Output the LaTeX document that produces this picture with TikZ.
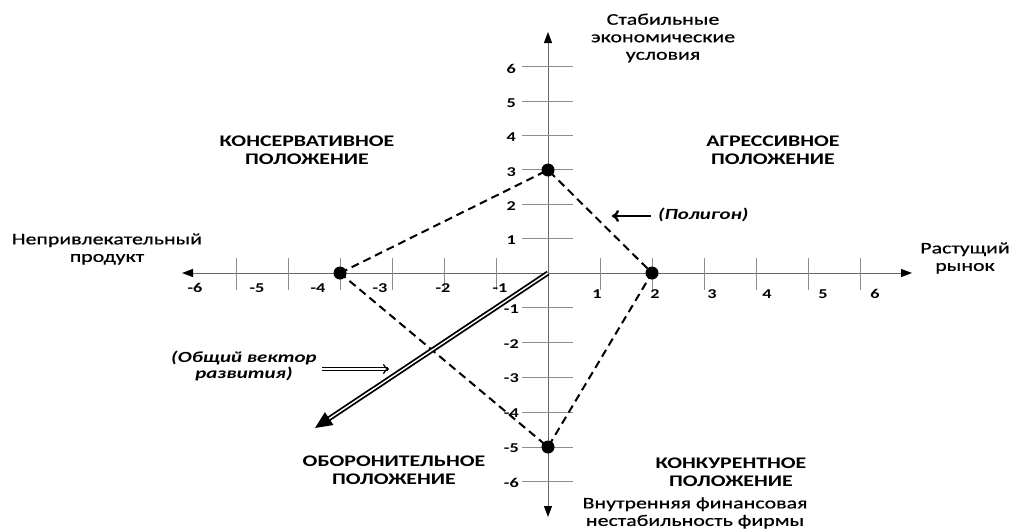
\documentclass[tikz,border=0pt]{standalone}
\usepackage{fontspec}
\setmainfont{Carlito}[FakeStretch=1.35]
\newfontfamily\axfont{Carlito}[FakeStretch=1.35, FakeBold=0.6]
\usetikzlibrary{arrows.meta}
\tikzset{axtip/.tip={Triangle[length=11pt,width=8pt,color=black]}}
\begin{document}
\begin{tikzpicture}[x=1pt,y=-1pt,
  axis/.style={draw=black!60, line width=1pt},
  tickline/.style={draw=black!45, line width=1pt},
  num/.style={font=\fontsize{13.5}{15}\selectfont\bfseries, inner sep=0pt},
  quad/.style={font=\fontsize{16.2}{18}\selectfont\bfseries, align=center, inner sep=0pt},
  axlab/.style={font=\axfont\fontsize{16.2}{17.5}\selectfont, align=center, inner sep=0pt},
  note/.style={font=\fontsize{15.5}{16}\selectfont\bfseries\itshape, align=center, inner sep=0pt},
  dot/.style={circle, fill=black, minimum size=13pt, inner sep=0pt},
  poly/.style={dash pattern=on 8pt off 5pt, line width=2pt}
]
\useasboundingbox (0,0) rectangle (1010,530);
% axes
\coordinate (xl) at (182,273);
\coordinate (xr) at (912,273);
\coordinate (yt) at (548,32);
\coordinate (yb) at (548,517);
\coordinate (O) at (548,273);
\draw[axis, {axtip}-{axtip}] (xl) -- (xr);
\draw[axis, {axtip}-{axtip}] (yb) -- (yt);
% x ticks
\foreach \i in {-6,-5,-4,-3,-2,-1,1,2,3,4,5,6}
  \draw[tickline] ({548+52*\i},258) -- ({548+52*\i},290);
% y ticks
\foreach \i in {1,...,6}
  \draw[tickline] (522,{273-34.4*\i}) -- (573,{273-34.4*\i});
\foreach \i in {1,...,6}
  \draw[tickline] (522,{273+34.8*\i}) -- (573,{273+34.8*\i});
% x labels
\foreach \xx/\t [count=\k] in {195/-6,257/-5,318/-4,380/-3,443/-2,500/-1}
  \node[num] (xn\k) at (\xx,288) {\t};
\foreach \xx/\t [count=\k] in {597/1,655/2,712/3,767/4,823/5,875/6}
  \node[num] (xp\k) at (\xx,294) {\t};
% y labels
\foreach \i in {1,...,6}
  \node[num, anchor=east] (yp\i) at (516,{275-34.4*\i}) {\i};
\foreach \i in {1,...,6}
  \node[num, anchor=east] (yn\i) at (519,{274+34.8*\i}) {-\i};
% polygon
\node[dot] (A) at (548,170) {};
\node[dot] (B) at (652,273) {};
\node[dot] (C) at (548,447) {};
\node[dot] (D) at (340,273) {};
\draw[poly] (D.center) -- (A.center) -- (B.center) -- (C.center) -- (D.center);
% general vector
\coordinate (V) at (315,428);
\draw[double, double distance=1.4pt, line width=1.8pt, -{Triangle[length=17pt,width=15pt]}] (O) -- (V);
% notes
\node[note, anchor=west] (pol) at (658,215) {(Полигон)};
\coordinate (pa) at (651,216);
\coordinate (pb) at (612,216);
\draw[line width=2.4pt, -{To[length=7pt,width=12pt]}] (pa) -- (pb);
\node[note] (vec) at (244,366) {(Общий вектор\\развития)};
\coordinate (va) at (322,369);
\coordinate (vb) at (389,369);
\draw[double, double distance=1.1pt, line width=1.3pt, -{To[length=6pt,width=10pt]}] (va) -- (vb);
% quadrant labels
\node[quad] (q1) at (307,150) {КОНСЕРВАТИВНОЕ\\ПОЛОЖЕНИЕ};
\node[quad] (q2) at (773,150) {АГРЕССИВНОЕ\\ПОЛОЖЕНИЕ};
\node[quad] (q3) at (394,470) {ОБОРОНИТЕЛЬНОЕ\\ПОЛОЖЕНИЕ};
\node[quad] (q4) at (731,472) {КОНКУРЕНТНОЕ\\ПОЛОЖЕНИЕ};
% axis labels
\node[axlab] (lt) at (663,38) {Стабильные\\экономические\\условия};
\node[axlab] (ll) at (107,249) {Непривлекательный\\продукт};
\node[axlab] (lr) at (965,258) {Растущий\\рынок};
\node[axlab] (lb) at (695,513) {Внутренняя финансовая\\нестабильность фирмы};
\end{tikzpicture}
\end{document}
